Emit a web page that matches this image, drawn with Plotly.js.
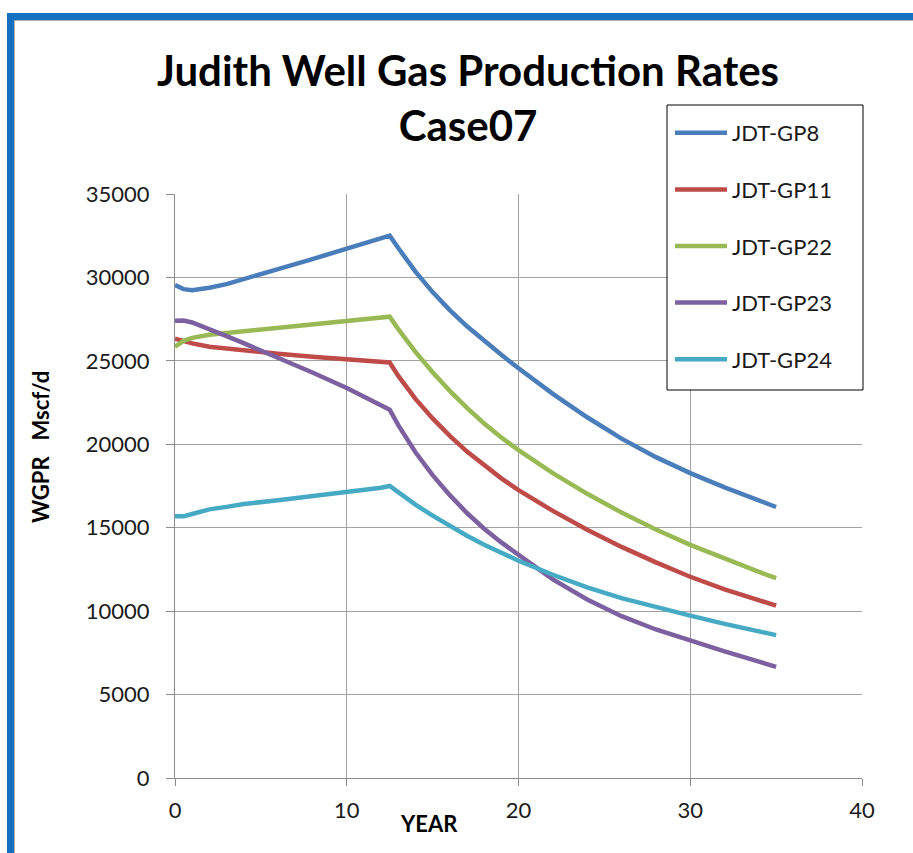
<!DOCTYPE html>
<html>
<head>
<meta charset="utf-8">
<script src="https://cdn.plot.ly/plotly-3.0.1.min.js"></script>
<style>
  html, body { margin: 0; padding: 0; background: #ffffff; }
  #wrap { position: relative; width: 913px; height: 853px; overflow: hidden; }
  #frame { position: absolute; left: 7px; top: 13px; width: 1200px; height: 1200px;
           border-left: 7px solid #1570C0; border-top: 7px solid #1570C0;
           box-shadow: inset 1px 1px 0 #b0b0b0; pointer-events: none; z-index: 2; }
  #chart { position: absolute; left: 0; top: 0; width: 913px; height: 853px; z-index: 1; }
</style>
</head>
<body>
<div id="wrap">
  <div id="chart"></div>
  <div id="frame"></div>
</div>
<script>
// Years (shared sample points for all wells)
const years = [0, 0.5, 1, 2, 3, 4, 6, 8, 10, 12, 12.5, 13, 13.5, 14, 15, 16, 17, 18, 19, 20, 22, 24, 26, 28, 30, 32, 34, 35];

// Gas production rates, Mscf/d
const gp8  = [29550, 29300, 29230, 29380, 29600, 29880, 30500, 31100, 31720, 32330, 32500, 31760, 31040, 30350, 29120, 28040, 27070, 26190, 25360, 24560, 23020, 21620, 20340, 19230, 18270, 17420, 16620, 16240];
const gp11 = [26330, 26180, 26050, 25850, 25730, 25620, 25420, 25250, 25110, 24960, 24900, 24100, 23380, 22720, 21550, 20500, 19560, 18720, 17960, 17250, 16010, 14880, 13850, 12920, 12060, 11310, 10640, 10330];
const gp22 = [25850, 26200, 26380, 26560, 26670, 26780, 26990, 27210, 27440, 27600, 27650, 26900, 26200, 25540, 24320, 23200, 22180, 21250, 20410, 19650, 18270, 17030, 15910, 14890, 13970, 13130, 12350, 11980];
const gp23 = [27400, 27420, 27300, 26920, 26480, 26060, 25200, 24300, 23370, 22340, 22070, 21150, 20300, 19520, 18150, 16950, 15880, 14940, 14120, 13400, 11900, 10700, 9700, 8900, 8230, 7590, 6970, 6660];
const gp24 = [15680, 15680, 15820, 16100, 16250, 16420, 16650, 16880, 17130, 17400, 17500, 17100, 16730, 16380, 15720, 15100, 14520, 13980, 13480, 13020, 12180, 11430, 10780, 10230, 9730, 9240, 8780, 8560];

const seriesNames = ['JDT-GP8', 'JDT-GP11', 'JDT-GP22', 'JDT-GP23', 'JDT-GP24'];
const seriesValues = [gp8, gp11, gp22, gp23, gp24];
const seriesColors = ['#4A7EBB', '#BE4B48', '#98B954', '#7D60A0', '#46AAC5'];

const xTicks = [0, 10, 20, 30, 40];
const yTicks = [0, 5000, 10000, 15000, 20000, 25000, 30000, 35000];

const FONT = 'Lato, "Open Sans", "Liberation Sans", sans-serif';

const traces = seriesNames.map((name, i) => ({
  type: 'scatter',
  mode: 'lines',
  name: name,
  x: years,
  y: seriesValues[i],
  legendgroup: 'g' + i,
  line: { color: seriesColors[i], width: 4.5 },
  hoverinfo: 'x+y+name'
}));

const plotL = 175, plotR = 862, plotT = 194, plotB = 778;
const pw = plotR - plotL, ph = plotB - plotT;
const px = v => (v - plotL) / pw;
const py = v => (plotB - v) / ph;

const layout = {
  width: 913,
  height: 853,
  margin: { l: plotL, r: 913 - plotR, t: plotT, b: 853 - plotB, pad: 0 },
  paper_bgcolor: 'rgba(255,255,255,1)',
  plot_bgcolor: '#ffffff',
  font: { family: FONT, color: '#1a1a1a' },
  title: {
    text: '<b>Judith Well Gas Production Rates<br>Case07</b>',
    font: { family: FONT, size: 42, color: '#000000' },
    xref: 'container', yref: 'container',
    x: 468 / 913, xanchor: 'center',
    y: 1 - 86 / 853, yanchor: 'top'
  },
  xaxis: {
    range: [0, 40],
    tickvals: xTicks,
    ticktext: xTicks.map(String),
    showgrid: true, gridcolor: '#a3a3a3', gridwidth: 1,
    zeroline: false,
    showline: true, linecolor: '#8c8c8c', linewidth: 1,
    ticks: 'outside', ticklen: 7, tickcolor: '#8c8c8c',
    tickfont: { family: FONT, size: 22, color: '#1a1a1a' },
    ticklabelstandoff: 6,
    fixedrange: true
  },
  yaxis: {
    range: [0, 35000],
    tickvals: yTicks,
    ticktext: yTicks.map(String),
    showgrid: true, gridcolor: '#a3a3a3', gridwidth: 1,
    zeroline: false,
    showline: true, linecolor: '#8c8c8c', linewidth: 1,
    ticks: 'outside', ticklen: 8, tickcolor: '#8c8c8c',
    tickfont: { family: FONT, size: 22, color: '#1a1a1a' },
    ticklabelstandoff: 12,
    fixedrange: true
  },
  showlegend: true,
  legend: {
    x: px(670), y: py(112), xanchor: 'left', yanchor: 'top',
    bgcolor: 'rgba(255,255,255,0)', borderwidth: 0,
    font: { family: FONT, size: 22, color: '#1a1a1a' },
    tracegroupgap: 25,
    itemwidth: 52
  },
  shapes: [{
    type: 'rect', xref: 'paper', yref: 'paper', layer: 'above',
    x0: px(667), x1: px(863), y0: py(390), y1: py(105),
    line: { color: '#000000', width: 1 }, fillcolor: '#ffffff'
  }],
  annotations: [
    {
      text: '<b>WGPR\u00A0\u00A0\u00A0Mscf/d</b>',
      xref: 'paper', yref: 'paper', x: px(40), y: py(447),
      xanchor: 'center', yanchor: 'middle', textangle: -90, showarrow: false,
      font: { family: FONT, size: 22, color: '#000000' }
    },
    {
      text: '<b>YEAR</b>',
      xref: 'paper', yref: 'paper', x: px(429), y: py(823),
      xanchor: 'center', yanchor: 'middle', showarrow: false,
      font: { family: FONT, size: 22, color: '#000000' }
    }
  ]
};

Plotly.newPlot('chart', traces, layout, { displayModeBar: false, staticPlot: true });
</script>
</body>
</html>
